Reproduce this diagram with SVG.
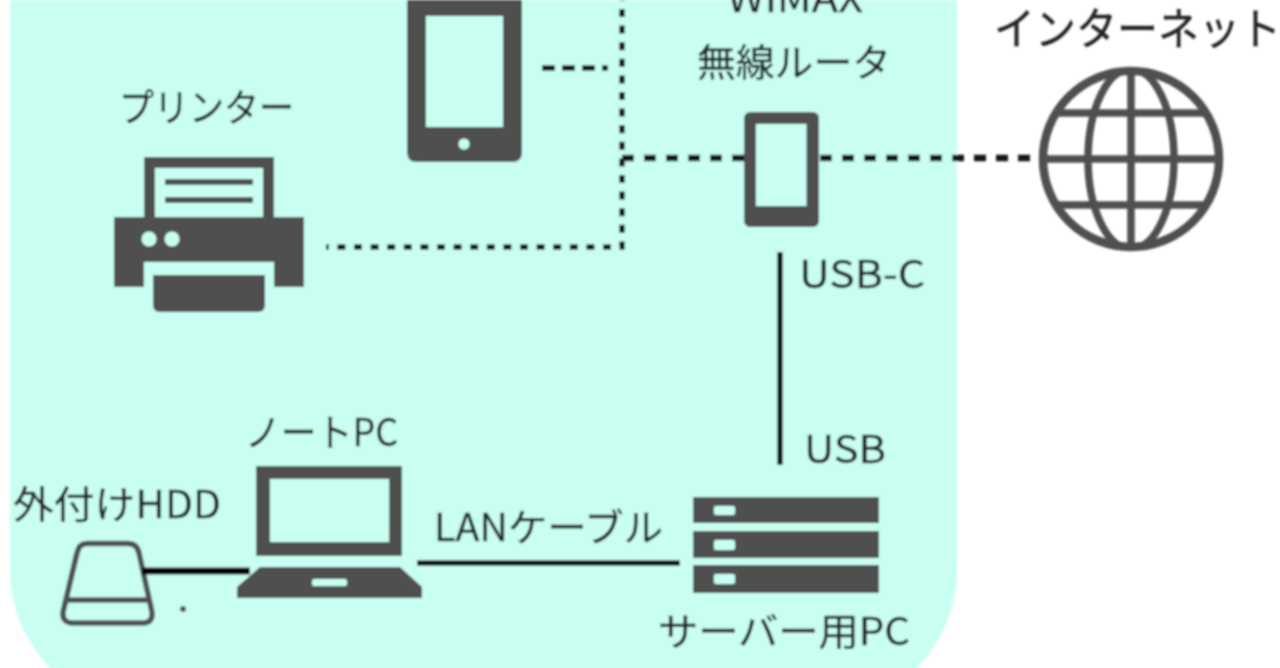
<svg xmlns="http://www.w3.org/2000/svg" width="1280" height="668" viewBox="0 0 1280 668">
<defs>
<style>
.ic{fill:#505050}
.bg{fill:#c8fff2}
.t{font-family:"Noto Sans CJK JP","Noto Sans",sans-serif;fill:#222222;stroke:#222222;stroke-width:0.3px;font-size:38px}
.c{fill:none;stroke:#141414}
</style>
<filter id="soft" x="-5%" y="-5%" width="110%" height="110%"><feGaussianBlur stdDeviation="0.9"/></filter>
<clipPath id="gc"><ellipse cx="1131" cy="159" rx="90" ry="90"/></clipPath>
</defs>
<rect width="1280" height="668" fill="#ffffff"/>
<g filter="url(#soft)">
<path class="bg" d="M10 0H957V570A140 140 0 0 1 817 710H150A140 140 0 0 1 10 570Z"/>
<g id="tablet">
<path class="ic" fill-rule="evenodd" d="M407 0H522V152Q522 162 512 162H417Q407 162 407 152ZM426 16V127H503V16Z"/>
<circle class="bg" cx="464" cy="144" r="5.500"/>
</g>
<g id="printer">
<path class="ic" fill-rule="evenodd" d="M144 157H274V217H304V287H274V262H144V287H114V217H144ZM155 168V217H263V168Z"/>
<rect class="ic" x="165" y="179" width="88" height="6"/>
<rect class="ic" x="165" y="197" width="88" height="6"/>
<circle class="bg" cx="149" cy="239" r="7.500"/>
<circle class="bg" cx="172" cy="239" r="7.500"/>
<path class="ic" d="M153 275H265V305Q265 312 258 312H160Q153 312 153 305Z"/>
<text class="t" x="119" y="121" textLength="175" lengthAdjust="spacingAndGlyphs">プリンター</text>
</g>
<g id="router">
<path class="ic" fill-rule="evenodd" d="M751 112H812Q819 112 819 119V220Q819 227 812 227H751Q744 227 744 220V119Q744 112 751 112ZM756 124V206H806.500V124Z"/>
<text class="t" x="795" y="12" text-anchor="middle" textLength="136" lengthAdjust="spacingAndGlyphs">WiMAX</text>
<text class="t" x="697" y="76" textLength="194" lengthAdjust="spacingAndGlyphs">無線ルータ</text>
</g>
<g id="internet">
<text class="t" transform="translate(994 45) scale(1.025 1.1)" style="font-size:40px">インターネット</text>
<g clip-path="url(#gc)" fill="none" stroke="#505050" stroke-width="7.500">
<path d="M1131 69V249M1041 159H1221M1041 113H1221M1041 205H1221"/>
<ellipse cx="1131" cy="159" rx="43" ry="90"/>
</g>
<ellipse cx="1131" cy="159" rx="88" ry="88" fill="none" stroke="#505050" stroke-width="8.500"/>
</g>
<g id="laptop">
<path class="ic" fill-rule="evenodd" d="M256 466H402V556H256ZM270 479V542H389V479Z"/>
<path class="ic" fill-rule="evenodd" d="M260 567H400L422 587V598H237V587ZM314 579Q312 579 312 582V584Q312 586 314 586H345Q347 586 347 584V582Q347 579 345 579Z"/>
<text class="t" x="245" y="446" textLength="153" lengthAdjust="spacingAndGlyphs">ノートPC</text>
</g>
<g id="hdd">
<path fill="none" stroke="#505050" stroke-width="5.500" stroke-linejoin="round" d="M87 543.500H128Q137 543.500 139 553L152 612Q153 623 143 623H73Q62 623 63 612L77 553Q79 543.500 87 543.500ZM66 600H149"/>
<circle cx="183" cy="609" r="3" fill="#505050"/>
<text class="t" x="13" y="518" textLength="208" lengthAdjust="spacingAndGlyphs">外付けHDD</text>
</g>
<g id="server">
<rect class="ic" x="693" y="497" width="186" height="26"/>
<rect class="ic" x="693" y="531" width="186" height="27"/>
<rect class="ic" x="693" y="565" width="186" height="28"/>
<rect class="bg" x="714" y="506" width="21" height="9" rx="2"/>
<rect class="bg" x="714" y="540" width="21" height="10" rx="2"/>
<rect class="bg" x="714" y="574" width="21" height="10" rx="2"/>
<text class="t" x="658" y="645" textLength="252" lengthAdjust="spacingAndGlyphs">サーバー用PC</text>
</g>
<g id="labels">
<text class="t" x="799" y="288" textLength="126" lengthAdjust="spacingAndGlyphs">USB-C</text>
<text class="t" x="804" y="463" textLength="82" lengthAdjust="spacingAndGlyphs">USB</text>
<text class="t" x="434" y="541" textLength="229" lengthAdjust="spacingAndGlyphs">LANケーブル</text>
</g>
<g id="connectors">
<path class="c" d="M622 0V247H326" stroke-width="5.500" stroke-dasharray="8 8.600" stroke-dashoffset="-9"/>
<path class="c" d="M542 68H608" stroke-width="5.500" stroke-dasharray="13 7"/>
<path class="c" d="M622 158H745M820 158H1030" stroke-width="6.500" stroke-dasharray="12 10"/>
<path class="c" d="M780 252V465" stroke-width="5.500"/>
<path class="c" d="M417 563H680" stroke-width="5.500"/>
<path class="c" d="M142 571H250" stroke-width="7" style="stroke:#060606"/>
</g>
</g>
</svg>
